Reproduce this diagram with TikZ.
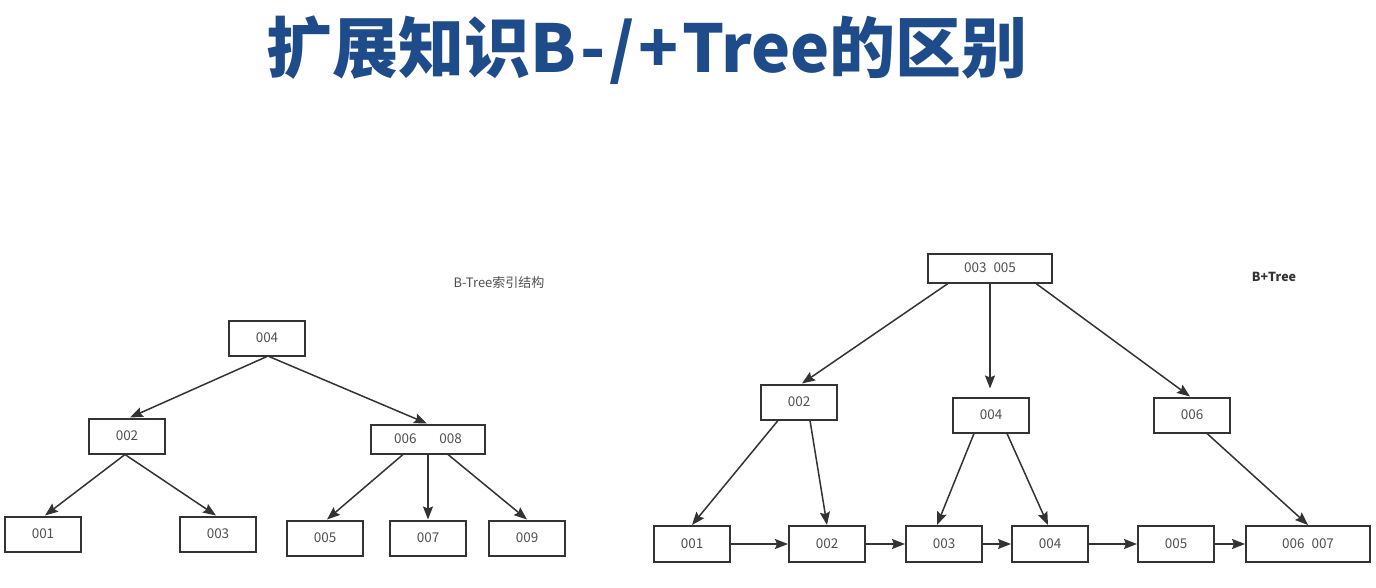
\documentclass[tikz,border=0pt]{standalone}
\usepackage{fontspec}
\newfontfamily\cjk{Noto Sans CJK SC}
\usetikzlibrary{arrows.meta}
\definecolor{titleblue}{RGB}{30,76,138}
\definecolor{linegray}{RGB}{51,51,51}
\definecolor{txtgray}{RGB}{80,80,80}
\begin{document}
\begin{tikzpicture}[x=1pt,y=-1pt,
  box/.style={draw=linegray, line width=2pt, minimum width=76pt, minimum height=35pt,
    inner sep=0pt, fill=white, text=txtgray, font=\cjk\fontsize{13.5}{14}\selectfont},
  arr/.style={-{Stealth[length=13pt,width=10pt,inset=2pt]}, line width=1.5pt, draw=linegray},
  lbl/.style={inner sep=0pt, font=\cjk\fontsize{13}{14}\selectfont}
]
\useasboundingbox (0,0) rectangle (1376,588);
% title
\node[inner sep=0pt, text=titleblue, font=\cjk\bfseries\fontsize{66}{70}\selectfont] (title) at (647,50) {扩展知识B\hspace{4pt}-\hspace{4pt}/\hspace{4pt}+\hspace{3pt}Tree的区别};

% ---- B-Tree ----
\node[lbl, text=txtgray] (blabel) at (499,283) {B-Tree索引结构};
\node[box] (l4) at (267,338) {004};
\node[box] (l2) at (127,436) {002};
\node[box, minimum width=114pt, minimum height=29pt] (l68) at (428,439) {006\hspace{23pt}008};
\node[box] (l1) at (43,534) {001};
\node[box] (l3) at (218,534) {003};
\node[box] (l5) at (325,538) {005};
\node[box] (l7) at (428,538) {007};
\node[box] (l9) at (527,538) {009};

\draw[arr] (l4.south) -- ([xshift=3pt]l2.north);
\draw[arr] ([xshift=2pt]l4.south) -- ([xshift=-1pt]l68.north);
\draw[arr] ([xshift=-2pt]l2.south) -- ([xshift=2pt]l1.north);
\draw[arr] ([xshift=-2pt]l2.south) -- ([xshift=-2pt]l3.north);
\draw[arr] ([xshift=-25pt]l68.south) -- ([xshift=2pt]l5.north);
\draw[arr] (l68.south) -- (l7.north);
\draw[arr] ([xshift=20pt]l68.south) -- (l9.north);

% ---- B+Tree ----
\node[lbl, text=linegray, font=\cjk\bfseries\fontsize{12.5}{13}\selectfont] (plabel) at (1274,277) {B+Tree};
\node[box, minimum width=124pt, minimum height=29pt] (rR) at (990,268) {003\hspace{7pt}005};
\node[box] (r2) at (799,402) {002};
\node[box] (r4) at (991,415) {004};
\node[box] (r6) at (1192,415) {006};
\node[box, minimum height=36pt] (q1) at (692,544) {001};
\node[box, minimum height=36pt] (q2) at (827,544) {002};
\node[box, minimum height=36pt] (q3) at (944,544) {003};
\node[box, minimum height=36pt] (q4) at (1050,544) {004};
\node[box, minimum height=36pt] (q5) at (1176,544) {005};
\node[box, minimum height=36pt, minimum width=124pt] (q67) at (1308,544) {006\hspace{7pt}007};

\draw[arr] ([xshift=-42pt]rR.south) -- ([xshift=3pt]r2.north);
\draw[arr, shorten >=8pt] (rR.south) -- (rR.south |- r4.north);
\draw[arr] ([xshift=46pt]rR.south) -- ([xshift=-2pt]r6.north);
\draw[arr] ([xshift=-21pt]r2.south) -- (q1.north);
\draw[arr] ([xshift=11pt]r2.south) -- (q2.north);
\draw[arr] ([xshift=-17pt]r4.south) -- ([xshift=-7pt]q3.north);
\draw[arr] ([xshift=16pt]r4.south) -- ([xshift=-2pt]q4.north);
\draw[arr] ([xshift=15pt]r6.south) -- (q67.north);

\draw[arr] (q1.east) -- (q2.west);
\draw[arr] (q2.east) -- (q3.west);
\draw[arr] (q3.east) -- (q4.west);
\draw[arr] (q4.east) -- (q5.west);
\draw[arr] (q5.east) -- (q67.west);
\end{tikzpicture}
\end{document}
